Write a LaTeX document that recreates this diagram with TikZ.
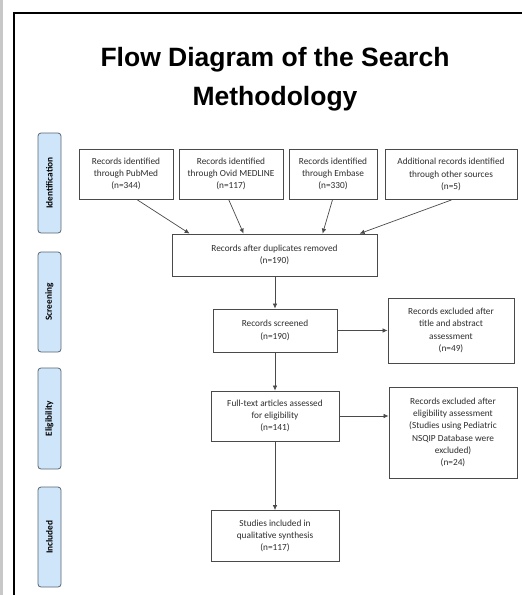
\documentclass[tikz,border=0pt]{standalone}
\usepackage{fontspec}
\setmainfont{Carlito}
\newfontfamily\titlefont{Liberation Sans}
\usetikzlibrary{arrows.meta,calc}
\definecolor{boxborder}{HTML}{4A4A4A}
\definecolor{textgray}{HTML}{2E2E2E}
\definecolor{stagefill}{HTML}{CFE6FA}
\definecolor{stageborder}{HTML}{5A6672}
\definecolor{sidebar}{HTML}{C8C8C8}
\tikzset{
  box/.style={draw=boxborder, line width=0.8pt, fill=white, align=center,
    text=textgray, inner sep=0pt,
    font=\fontsize{9.3}{12.3}\selectfont},
  stage/.style={draw=stageborder, line width=0.8pt, fill=stagefill,
    rounded corners=3pt, minimum width=100pt, minimum height=23pt,
    inner sep=0pt, font=\bfseries\fontsize{9.3}{11}\selectfont, rotate=90},
  arr/.style={draw=boxborder, line width=0.7pt, -{Latex[length=5pt,width=4.5pt]}},
  titletext/.style={font=\titlefont\bfseries\fontsize{26.5}{32}\selectfont, anchor=base}
}
\begin{document}
\begin{tikzpicture}[x=1pt,y=-1pt]
\useasboundingbox (0,0) rectangle (522,595);
\fill[white] (0,0) rectangle (522,595);
\fill[sidebar] (0,0) rectangle (2.5,595);
\draw[black, line width=1.2pt] (14,596) -- (14,13) -- (523,13);

\node[titletext] (t1) at (275,66) {Flow Diagram of the Search};
\node[titletext] (t2) at (275,105) {Methodology};

% stage labels
\node[stage] (sI) at (49.5,183) {Identification};
\node[stage] (sS) at (49.5,302) {Screening};
\node[stage, minimum width=101pt] (sE) at (49.5,418.5) {Eligibility};
\node[stage] (sN) at (49.5,537) {Included};

% boxes
\node[box, minimum width=94pt, minimum height=50pt] (pub) at (126,174)
  {Records identified\\through PubMed\\(n=344)};
\node[box, minimum width=104pt, minimum height=50pt] (ovid) at (231,174)
  {Records identified\\through Ovid MEDLINE\\(n=117)};
\node[box, minimum width=88pt, minimum height=50pt] (emb) at (333,174)
  {Records identified\\through Embase\\(n=330)};
\node[box, minimum width=132pt, minimum height=50pt] (add) at (451,174.5)
  {Additional records identified\\through other sources\\(n=5)};
\node[box, minimum width=205pt, minimum height=42pt] (dup) at (274.5,255)
  {Records after duplicates removed\\(n=190)};
\node[box, minimum width=124pt, minimum height=43pt] (scr) at (275,330.5)
  {Records screened\\(n=190)};
\node[box, minimum width=126pt, minimum height=65pt] (exc1) at (451,330.5)
  {Records excluded after\\title and abstract\\assessment\\(n=49)};
\node[box, minimum width=128pt, minimum height=50pt] (full) at (275,416)
  {Full-text articles assessed\\for eligibility\\(n=141)};
\node[box, minimum width=128pt, minimum height=91pt] (exc2) at (453,432.5)
  {Records excluded after\\eligibility assessment\\(Studies using Pediatric\\NSQIP Database were\\excluded)\\(n=24)};
\node[box, minimum width=128pt, minimum height=51pt] (stud) at (275,536)
  {Studies included in\\qualitative synthesis\\(n=117)};

% connectors
\draw[arr] ($(pub.south west)+(58,0)$) -- ($(dup.north west)+(18,0)$);
\draw[arr] ($(ovid.south west)+(50,0)$) -- ($(dup.north west)+(72,0)$);
\draw[arr] ($(emb.south west)+(44,0)$) -- ($(dup.north west)+(151,0)$);
\draw[arr] ($(add.south west)+(67,0)$) -- ($(dup.north west)+(188,0)$);
\draw[arr] (scr.north |- dup.south) -- (scr.north);
\draw[arr] (scr.east) -- (scr.east -| exc1.west);
\draw[arr] (scr.south) -- (full.north);
\draw[arr] (full.east) -- (full.east -| exc2.west);
\draw[arr] (full.south) -- (stud.north);
\end{tikzpicture}
\end{document}
